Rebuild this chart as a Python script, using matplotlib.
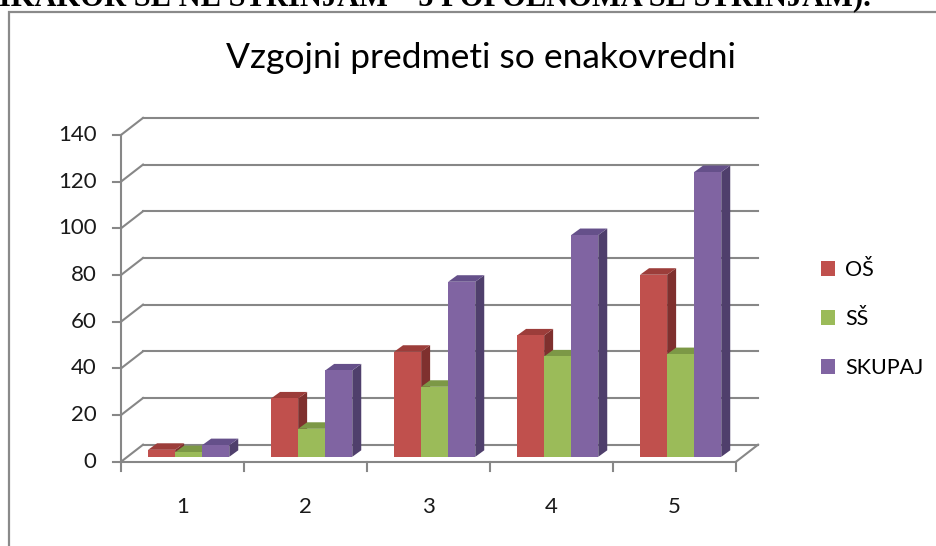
import matplotlib.pyplot as plt
from matplotlib.patches import Polygon, Rectangle, Patch

# podatki
categories = ['1', '2', '3', '4', '5']
series_names = ['OŠ', 'SŠ', 'SKUPAJ']
os_vals = [3, 25, 45, 52, 78]
ss_vals = [2, 12, 30, 43, 44]
skupaj_vals = [5, 37, 75, 95, 122]
y_ticks = [0, 20, 40, 60, 80, 100, 120, 140]

front_cols = ['#C0504D', '#9BBB59', '#8064A2']
side_cols = ['#7F302E', '#71893F', '#4F3F6C']
top_cols = ['#9C3D3A', '#7C9846', '#65508A']
grid_col = '#878787'

# 3D izgled (x v enotah kategorij, y v enotah vrednosti)
wall_dx, wall_dy = 0.179, 7.3
bar_dx, bar_dy = 0.05, 2.1
depth_dx, depth_dy = 0.073, 2.8
bar_w = 0.22

font = 'Lato'

fig = plt.figure(figsize=(9.37, 5.46), dpi=100)
ax = fig.add_axes([0, 0, 1, 1])
ax.set_xlim(-0.984, 6.634)
ax.set_ylim(-36.1, 197.8)
ax.axis('off')

n = len(categories)
ymax = y_ticks[-1]

# mreza na zadnji in levi steni
for v in y_ticks:
    ax.plot([wall_dx, n + wall_dx], [v + wall_dy, v + wall_dy], color=grid_col, lw=1.5, zorder=1)
    ax.plot([0, wall_dx], [v, v + wall_dy], color=grid_col, lw=1.5, zorder=1)
    ax.plot([-0.065, 0], [v, v], color=grid_col, lw=1.5, zorder=1)
    ax.text(-0.2, v, str(v), ha='right', va='center', fontsize=16, family=font, color='#1a1a1a')

ax.plot([0, 0], [0, ymax], color=grid_col, lw=1.5, zorder=1)
# tla
ax.plot([0, n], [0, 0], color=grid_col, lw=1.5, zorder=1)
ax.plot([n, n + wall_dx], [0, wall_dy], color=grid_col, lw=1.5, zorder=1)
for k in range(n + 1):
    ax.plot([k, k], [0, -3.9], color=grid_col, lw=1.5, zorder=1)
for j, c in enumerate(categories):
    ax.text(j + 0.5, -19.4, c, ha='center', va='center', fontsize=16, family=font, color='#1a1a1a')

# stolpci
gap = (1 - 3 * bar_w) / 2
all_vals = [os_vals, ss_vals, skupaj_vals]
for i, vals in enumerate(all_vals):
    xs = [j + gap + i * bar_w + bar_dx for j in range(n)]
    for x0, val in zip(xs, vals):
        x1 = x0 + bar_w
        top = bar_dy + val
        side = Polygon([(x1, bar_dy), (x1 + depth_dx, bar_dy + depth_dy),
                        (x1 + depth_dx, top + depth_dy), (x1, top)],
                       closed=True, facecolor=side_cols[i], edgecolor='none', zorder=3 + 2 * i)
        topf = Polygon([(x0, top), (x0 + depth_dx, top + depth_dy),
                        (x1 + depth_dx, top + depth_dy), (x1, top)],
                       closed=True, facecolor=top_cols[i], edgecolor='none', zorder=3 + 2 * i)
        ax.add_patch(side)
        ax.add_patch(topf)
    ax.bar(xs, vals, bar_w, bottom=bar_dy, align='edge', color=front_cols[i], zorder=4 + 2 * i)

# legenda
handles = [Patch(facecolor=c, edgecolor='none') for c in front_cols]
fig.legend(handles, series_names, loc='center left', bbox_to_anchor=(802 / 937, 1 - 319 / 546),
           frameon=False, prop={'family': font, 'size': 15.5}, labelspacing=1.35,
           handlelength=0.65, handleheight=0.65, handletextpad=0.45)

# naslov
fig.text(481 / 937, 1 - 58 / 546, 'Vzgojni predmeti so enakovredni', ha='center', va='center',
         fontsize=25.5, family=font, color='black')

# okvir grafa
fig.patches.append(Rectangle((9 / 937, -0.2), 1.2, 1.2 - 12 / 546, transform=fig.transFigure,
                             fill=False, edgecolor='#8a8a8a', lw=1.6))

# odrezan tekst nad grafom (v izvirniku je odrezan na vrhu)
fig.text(871 / 937, 1 - 5.5 / 546, '(1 – NIKAKOR SE NE STRINJAM – 5 POPOLNOMA SE STRINJAM).',
         ha='right', va='baseline', fontsize=22, family='Liberation Serif', weight='bold')

fig.savefig('out.png', dpi=100)
